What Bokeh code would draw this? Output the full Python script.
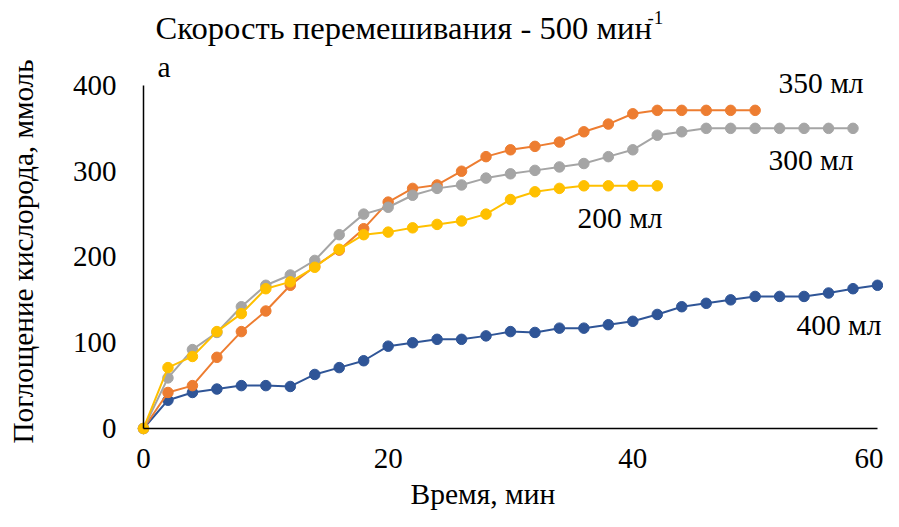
from bokeh.plotting import figure
from bokeh.models import Range1d, Label, FixedTicker
from bokeh.embed import file_html
from bokeh.resources import INLINE
import math

# ---- data ----
time_400 = [0, 2, 4, 6, 8, 10, 12, 14, 16, 18, 20, 22, 24, 26, 28, 30,
            32, 34, 36, 38, 40, 42, 44, 46, 48, 50, 52, 54, 56, 58, 60]
uptake_400 = [0, 33, 42, 46, 50, 50, 49, 63, 71, 79, 96, 100, 104, 104, 108, 113,
              112, 117, 117, 121, 125, 133, 142, 146, 150, 154, 154, 154, 158, 163, 167]

time_350 = [0, 2, 4, 6, 8, 10, 12, 14, 16, 18, 20, 22, 24, 26, 28, 30,
            32, 34, 36, 38, 40, 42, 44, 46, 48, 50]
uptake_350 = [0, 42, 50, 83, 113, 137, 167, 189, 208, 233, 264, 280, 284, 300, 317, 325,
              329, 334, 346, 355, 367, 371, 371, 371, 371, 371]

time_300 = [0, 2, 4, 6, 8, 10, 12, 14, 16, 18, 20, 22, 24, 26, 28, 30,
            32, 34, 36, 38, 40, 42, 44, 46, 48, 50, 52, 54, 56, 58]
uptake_300 = [0, 59, 92, 112, 142, 167, 179, 196, 226, 250, 258, 272, 280, 284, 292, 297,
              301, 305, 309, 317, 325, 342, 346, 350, 350, 350, 350, 350, 350, 350]

time_200 = [0, 2, 4, 6, 8, 10, 12, 14, 16, 18, 20, 22, 24, 26, 28, 30,
            32, 34, 36, 38, 40, 42]
uptake_200 = [0, 71, 84, 113, 134, 163, 171, 188, 209, 226, 229, 234, 238, 242, 250, 267,
              276, 280, 283, 283, 283, 283]

x_ticks = [0, 20, 40, 60]
y_ticks = [0, 100, 200, 300, 400]

FONT = "Liberation Serif"

p = figure(frame_width=883, frame_height=511,
           min_border_left=0, min_border_right=0,
           min_border_top=0, min_border_bottom=0,
           x_range=Range1d(-11.690, 60.493), y_range=Range1d(-96.8, 499.1),
           output_backend="svg", toolbar_location=None)

p.outline_line_color = None
p.xgrid.visible = False
p.ygrid.visible = False
p.background_fill_color = "white"
p.border_fill_color = "white"

for ax in (p.xaxis[0], p.yaxis[0]):
    ax.fixed_location = 0
    ax.axis_line_color = "black"
    ax.axis_line_width = 1.5
    ax.major_tick_line_color = None
    ax.minor_tick_line_color = None
    ax.major_tick_out = 0
    ax.major_tick_in = 0
    ax.minor_tick_out = 0
    ax.minor_tick_in = 0
    ax.major_label_text_font = FONT
    ax.major_label_text_font_size = "29px"
    ax.major_label_text_color = "black"

p.xaxis[0].ticker = FixedTicker(ticks=x_ticks)
p.yaxis[0].ticker = FixedTicker(ticks=y_ticks)
p.xaxis[0].bounds = (0, 60)
p.yaxis[0].bounds = (0, 400)
p.xaxis[0].major_label_standoff = 21
p.yaxis[0].major_label_standoff = 27

series = [
    (time_400, uptake_400, "#2F5597"),
    (time_350, uptake_350, "#ED7D31"),
    (time_300, uptake_300, "#A5A5A5"),
    (time_200, uptake_200, "#FFC000"),
]
for xs, ys, col in series:
    p.line(xs, ys, line_color=col, line_width=2)
    p.scatter(xs, ys, marker="circle", size=10.5, fill_color=col, line_color=col)

def lab(x, y, text, size="29.5px", angle=0.0, align="left"):
    p.add_layout(Label(x=x, y=y, text=text, text_font=FONT, text_font_size=size,
                       text_color="black", text_baseline="alphabetic",
                       text_align=align, angle=angle))

# title and sub-label
lab(0.98, 467.1, "Скорость перемешивания - 500 мин", size="32.6px")
lab(41.2, 478.7, "-1", size="19px")
lab(1.14, 421.6, "а")

# axis titles
lab(21.83, -76.4, "Время, мин")
lab(-9.89, 206.4, "Поглощение кислорода, ммоль", size="29.2px",
    angle=math.pi / 2, align="center")

# series labels
lab(51.91, 402.9, "350 мл")
lab(51.09, 313.1, "300 мл")
lab(35.48, 245.5, "200 мл")
lab(53.38, 120.7, "400 мл")

open("out.html", "w").write(file_html(p, INLINE))
